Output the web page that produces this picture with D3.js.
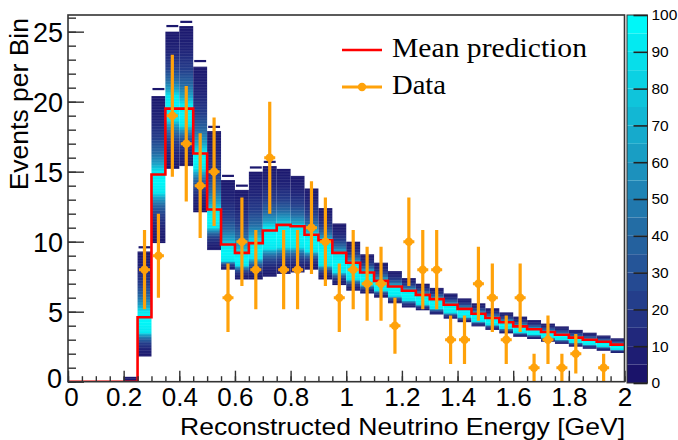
<!DOCTYPE html>
<html>
<head>
<meta charset="utf-8">
<script src="https://cdn.jsdelivr.net/npm/d3@7/dist/d3.min.js"></script>
<style>
  body { margin: 0; background: #fff; }
  svg { display: block; }
</style>
</head>
<body>
<svg id="chart" width="678" height="440"></svg>
<script>
// ---- binning: 40 bins of 0.05 GeV from 0 to 2 GeV ----
const binLow = [
  0.00, 0.05, 0.10, 0.15, 0.20, 0.25, 0.30, 0.35, 0.40, 0.45,
  0.50, 0.55, 0.60, 0.65, 0.70, 0.75, 0.80, 0.85, 0.90, 0.95,
  1.00, 1.05, 1.10, 1.15, 1.20, 1.25, 1.30, 1.35, 1.40, 1.45,
  1.50, 1.55, 1.60, 1.65, 1.70, 1.75, 1.80, 1.85, 1.90, 1.95
];
const binWidth = 0.05;

// mean prediction per bin (events)
const meanPrediction = [
  0, 0, 0, 0, 0, 4.6, 14.8, 19.5, 19.5, 16.3,
  12.3, 9.8, 9.2, 9.9, 10.8, 11.2, 11.1, 10.5, 10.1, 9.2,
  8.5, 7.8, 7.2, 6.8, 6.5, 6.2, 5.9, 5.5, 5.2, 4.85,
  4.55, 4.25, 3.95, 3.75, 3.55, 3.35, 3.15, 3.0, 2.85, 2.65
];

// observed events per bin
const dataCounts = [
  0, 0, 0, 0, 0, 8, 9, 19, 17, 14,
  15, 6, 10, 8, 16, 8, 8, 11, 10, 6,
  8, 7, 7, 4, 10, 8, 8, 3, 3, 7,
  6, 3, 6, 1, 3, 1, 2, 0, 1, 0
];

// spread of the throws: outer extent and densest (core) region per bin
const spreadHigh = [
  0, 0, 0, 0, 0.35, 9.3, 20.4, 25.0, 25.4, 22.5,
  17.9, 14.4, 13.7, 15.0, 15.4, 15.2, 14.7, 13.8, 12.4, 11.3,
  10.0, 9.1, 8.5, 7.9, 7.4, 7.0, 6.7, 6.3, 5.95, 5.6,
  5.25, 4.95, 4.65, 4.4, 4.15, 3.95, 3.7, 3.5, 3.3, 3.1
];
const spreadLow = [
  0, 0, 0, 0, 0, 1.8, 9.9, 15.2, 15.4, 12.1,
  9.4, 8.0, 7.3, 7.3, 7.5, 7.7, 7.8, 8.0, 7.3, 6.9,
  6.5, 6.3, 6.0, 5.6, 5.3, 5.1, 4.8, 4.5, 4.25, 3.95,
  3.7, 3.45, 3.2, 3.05, 2.85, 2.7, 2.5, 2.35, 2.2, 2.05
];
const coreHigh = [
  0, 0, 0, 0, 0, 5.0, 15.0, 20.4, 19.8, 16.4,
  12.2, 9.7, 9.2, 10.0, 11.0, 11.2, 11.0, 10.5, 10.0, 9.1,
  8.4, 7.8, 7.2, 6.8, 6.5, 6.2, 5.9, 5.5, 5.2, 4.85,
  4.55, 4.25, 3.95, 3.75, 3.55, 3.35, 3.15, 3.0, 2.85, 2.65
];
const coreLow = [
  0, 0, 0, 0, 0, 3.5, 13.5, 18.7, 18.3, 15.2,
  11.0, 8.6, 8.3, 8.8, 9.5, 9.6, 9.6, 9.3, 8.3, 7.8,
  7.3, 6.9, 6.5, 6.1, 5.8, 5.5, 5.2, 4.9, 4.6, 4.3,
  4.05, 3.8, 3.5, 3.35, 3.15, 3.0, 2.8, 2.65, 2.5, 2.3
];
// isolated low-count throws sitting above the main spread
const strayLevel = [
  null, null, null, null, null, 9.6, 20.9, 25.4, 25.7, 22.9,
  18.2, 14.7, 14.0, 15.3, 15.7, null, null, null, null, null,
  null, null, null, null, null, null, null, null, null, null,
  null, null, null, null, null, null, null, null, null, null
];

const xTicksMajor = [0, 0.2, 0.4, 0.6, 0.8, 1, 1.2, 1.4, 1.6, 1.8, 2];
const yTicksMajor = [0, 5, 10, 15, 20, 25];
const zTicks = [0, 10, 20, 30, 40, 50, 60, 70, 80, 90, 100];
const legendLabels = ["Mean prediction", "Data"];

// ---- layout ----
const SANS = "'Liberation Sans', Arial, sans-serif";
const SERIF = "'Liberation Serif', 'Times New Roman', serif";
const svg = d3.select("#chart");
const frame = { left: 68, right: 624.5, top: 15, bottom: 381.7 };
const x = d3.scaleLinear().domain([0, 2]).range([frame.left, frame.right]);
const y = d3.scaleLinear().domain([0, 26.19]).range([frame.bottom, frame.top]);
const z = d3.scaleLinear().domain([0, 100]).range([383, 15]);

// palette: dark navy -> cyan
const palette = d3.interpolateRgbBasis([
  "#1a136a", "#21267b", "#243c8a", "#255296", "#2468a2",
  "#207eb1", "#1b96c0", "#15aece", "#0ec6dd", "#06dfeb", "#00f7f8"
]);

svg.append("rect").attr("width", 678).attr("height", 440).attr("fill", "#fff");

const defs = svg.append("defs");
defs.append("clipPath").attr("id", "plotClip")
  .append("rect")
  .attr("x", frame.left).attr("y", frame.top)
  .attr("width", frame.right - frame.left).attr("height", frame.bottom - frame.top);

// fine horizontal striping of the y cells
const stripe = defs.append("pattern").attr("id", "cells")
  .attr("patternUnits", "userSpaceOnUse").attr("width", 8).attr("height", 2.8);
stripe.append("rect").attr("y", 0).attr("width", 8).attr("height", 0.7)
  .attr("fill", "#ffffff").attr("fill-opacity", 0.13);

// ---- spread band: one column per bin, shaded by density ----
const band = svg.append("g").attr("clip-path", "url(#plotClip)");
const rampOut = [[0, 0.02], [0.3, 0.08], [0.55, 0.2], [0.75, 0.4], [0.9, 0.65], [1, 0.93]];

binLow.forEach((lo, i) => {
  const hi = spreadHigh[i], low = spreadLow[i];
  if (hi <= low) return;
  const y0 = y(hi), y1 = y(low);
  const span = y1 - y0;
  const off = v => Math.max(0, Math.min(1, (y(v) - y0) / span));
  const gid = "g" + i;
  const grad = defs.append("linearGradient").attr("id", gid)
    .attr("gradientUnits", "userSpaceOnUse")
    .attr("x1", 0).attr("x2", 0).attr("y1", y0).attr("y2", y1);
  if (coreHigh[i] > coreLow[i]) {
    const cTop = off(coreHigh[i]), cBot = off(coreLow[i]);
    rampOut.forEach(([t, c]) => grad.append("stop").attr("offset", t * cTop).attr("stop-color", palette(c)));
    grad.append("stop").attr("offset", (cTop + cBot) / 2).attr("stop-color", palette(1));
    rampOut.slice().reverse().forEach(([t, c]) =>
      grad.append("stop").attr("offset", cBot + (1 - t) * (1 - cBot)).attr("stop-color", palette(c)));
  } else {
    grad.append("stop").attr("offset", 0).attr("stop-color", palette(0.02));
    grad.append("stop").attr("offset", 1).attr("stop-color", palette(0.06));
  }
  const bx = x(lo), bw = x(lo + binWidth) - x(lo);
  band.append("rect")
    .attr("x", bx).attr("width", bw)
    .attr("y", y0).attr("height", span)
    .attr("fill", `url(#${gid})`);
  band.append("rect")
    .attr("x", bx).attr("width", bw)
    .attr("y", y0).attr("height", span)
    .attr("fill", "url(#cells)");
  if (strayLevel[i] !== null) {
    band.append("rect")
      .attr("x", bx + 1).attr("width", bw - 2)
      .attr("y", y(strayLevel[i]) - 1.1).attr("height", 2.2)
      .attr("fill", palette(0.02));
  }
});

// ---- mean prediction step line ----
const stepPts = binLow.map((lo, i) => [lo, meanPrediction[i]]);
stepPts.push([2, meanPrediction[meanPrediction.length - 1]]);
svg.append("path")
  .attr("clip-path", "url(#plotClip)")
  .attr("d", d3.line().x(d => x(d[0])).y(d => y(d[1])).curve(d3.curveStepAfter)(stepPts))
  .attr("fill", "none").attr("stroke", "#ff0000").attr("stroke-width", 2.6);

// ---- data points with Poisson errors ----
const orange = "#ffa20a";
const pts = binLow.map((lo, i) => ({ e: lo + binWidth / 2, n: dataCounts[i] })).filter(d => d.n > 0);
const dg = svg.append("g").attr("clip-path", "url(#plotClip)");
dg.selectAll("line.err").data(pts).join("line")
  .attr("x1", d => x(d.e)).attr("x2", d => x(d.e))
  .attr("y1", d => y(d.n + Math.sqrt(d.n))).attr("y2", d => y(Math.max(0, d.n - Math.sqrt(d.n))))
  .attr("stroke", orange).attr("stroke-width", 3.2);
dg.selectAll("line.cap").data(pts).join("line")
  .attr("x1", d => x(d.e) - 5.5).attr("x2", d => x(d.e) + 5.5)
  .attr("y1", d => y(d.n)).attr("y2", d => y(d.n))
  .attr("stroke", orange).attr("stroke-width", 3);
dg.selectAll("circle").data(pts).join("circle")
  .attr("cx", d => x(d.e)).attr("cy", d => y(d.n)).attr("r", 4.2)
  .attr("fill", orange);

// ---- axes (ticks drawn inside the frame) ----
const fmt = d => String(+d.toFixed(1));
const xMinor = d3.range(0, 2.0001, 0.05).map(v => +v.toFixed(2));
const yMinor = d3.range(0, 26.0001, 1);

const gxMinor = svg.append("g").attr("transform", `translate(0,${frame.bottom})`)
  .call(d3.axisBottom(x).tickValues(xMinor).tickSize(-5.5).tickSizeOuter(0).tickFormat(""));
const gx = svg.append("g").attr("transform", `translate(0,${frame.bottom})`)
  .call(d3.axisBottom(x).tickValues(xTicksMajor).tickSize(-11).tickSizeOuter(0).tickPadding(6).tickFormat(fmt));
const gyMinor = svg.append("g").attr("transform", `translate(${frame.left},0)`)
  .call(d3.axisLeft(y).tickValues(yMinor).tickSize(-8).tickSizeOuter(0).tickFormat(""));
const gy = svg.append("g").attr("transform", `translate(${frame.left},0)`)
  .call(d3.axisLeft(y).tickValues(yTicksMajor).tickSize(-16).tickSizeOuter(0).tickPadding(5).tickFormat(fmt));

[gxMinor, gx, gyMinor, gy].forEach(g => {
  g.select(".domain").remove();
  g.selectAll(".tick line").attr("stroke", "#333").attr("stroke-width", 1.4);
  g.selectAll(".tick text").style("font-size", "27px").style("font-family", SANS).attr("fill", "#000");
});
gx.selectAll(".tick text").style("font-size", "26px");
gy.selectAll(".tick text").attr("dy", "0.36em");
// keep the two zero labels at the origin apart
gy.selectAll(".tick text").filter(d => d === 0).attr("dy", "0.2em").attr("x", -6);
gx.selectAll(".tick text").filter(d => d === 0).attr("x", 3);

// frame
svg.append("rect")
  .attr("x", frame.left).attr("y", frame.top)
  .attr("width", frame.right - frame.left).attr("height", frame.bottom - frame.top)
  .attr("fill", "none").attr("stroke", "#333").attr("stroke-width", 1.6);

// axis titles
svg.append("text")
  .attr("x", 625).attr("y", 434.5).attr("text-anchor", "end")
  .style("font-family", SANS).style("font-size", "24.5px")
  .attr("textLength", 445).attr("lengthAdjust", "spacingAndGlyphs")
  .text("Reconstructed Neutrino Energy [GeV]");
svg.append("text")
  .attr("transform", "translate(28,18) rotate(-90)")
  .attr("text-anchor", "end")
  .style("font-family", SANS).style("font-size", "26.5px").text("Events per Bin");

// ---- colour scale bar ----
const zBands = d3.range(0, 100, 5);
const cb = svg.append("g");
cb.selectAll("rect").data(zBands).join("rect")
  .attr("x", 627).attr("width", 20.5)
  .attr("y", d => z(d + 5)).attr("height", d => z(d) - z(d + 5))
  .attr("fill", d => palette(d / 95));
cb.append("rect").attr("x", 627).attr("y", z(100)).attr("width", 20.5).attr("height", z(0) - z(100))
  .attr("fill", "none").attr("stroke", "#333").attr("stroke-width", 1);
const gz = svg.append("g").attr("transform", "translate(647.5,0)")
  .call(d3.axisRight(z).tickValues(zTicks).tickSize(-14).tickSizeOuter(0).tickPadding(4));
gz.select(".domain").remove();
gz.selectAll(".tick line").attr("stroke", "#222").attr("stroke-width", 1.6);
gz.selectAll(".tick text").style("font-size", "15.5px").style("font-family", SANS).attr("fill", "#000");

// ---- legend ----
const lg = svg.append("g");
lg.append("line").attr("x1", 342).attr("x2", 382).attr("y1", 50).attr("y2", 50)
  .attr("stroke", "#ff0000").attr("stroke-width", 2.6);
lg.append("text").attr("x", 392).attr("y", 57)
  .style("font-family", SERIF).style("font-size", "27px")
  .attr("textLength", 195).attr("lengthAdjust", "spacingAndGlyphs").text(legendLabels[0]);
lg.append("line").attr("x1", 342).attr("x2", 382).attr("y1", 87).attr("y2", 87)
  .attr("stroke", orange).attr("stroke-width", 3);
lg.append("circle").attr("cx", 362).attr("cy", 87).attr("r", 4.2).attr("fill", orange);
lg.append("text").attr("x", 392).attr("y", 94)
  .style("font-family", SERIF).style("font-size", "27px")
  .attr("textLength", 54).attr("lengthAdjust", "spacingAndGlyphs").text(legendLabels[1]);
</script>
</body>
</html>
